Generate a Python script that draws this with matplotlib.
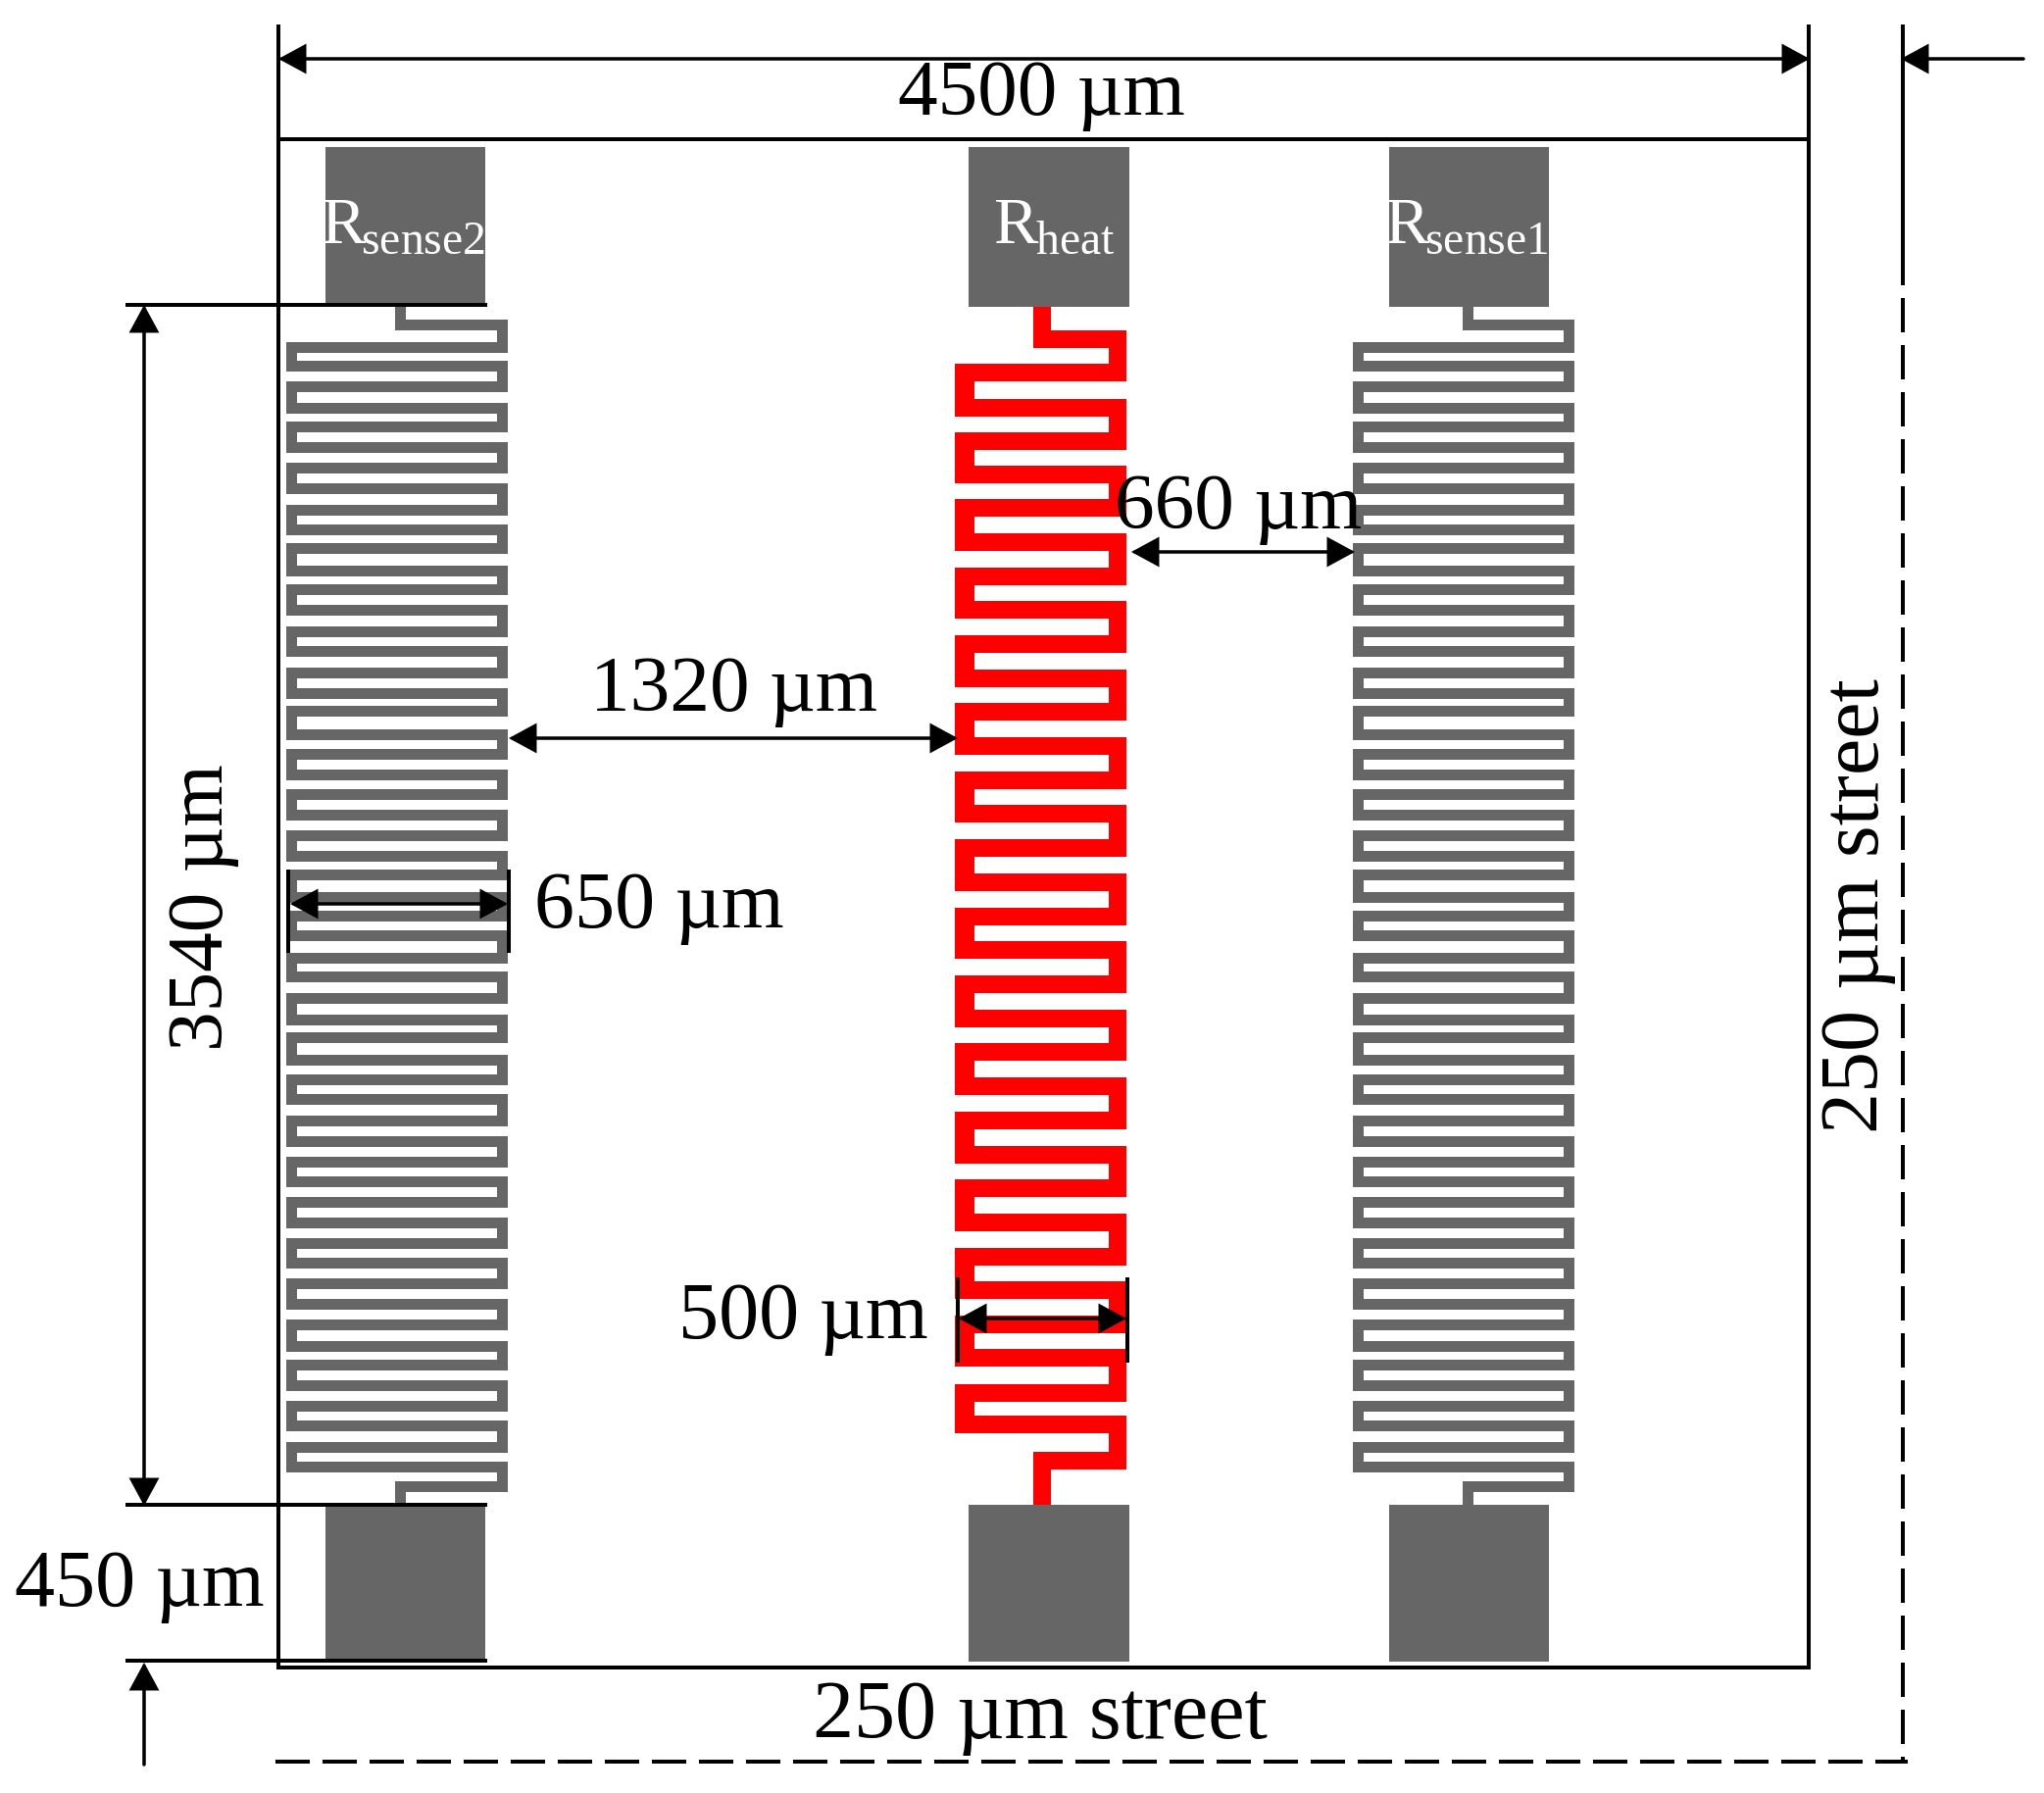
import matplotlib

matplotlib.use("Agg")
import matplotlib.pyplot as plt
from matplotlib.patches import Rectangle

ARQUIVO = "out.png"
LARGURA = 2085
ALTURA = 1829
DPI = 100

CINZA = "#666666"
VERMELHO = "#ff0000"
PRETO = "#000000"
FONTE = "Liberation Serif"

plt.rcParams["mathtext.fontset"] = "custom"
plt.rcParams["mathtext.rm"] = FONTE

# meander rows (pixel rows)
LINHAS_SENSOR = [
    354, 373, 394, 416, 435, 456, 477, 498, 520, 540,
    559, 582, 601, 622, 644, 664, 686, 707, 725, 749,
    769, 790, 810, 831, 852, 873, 892, 915, 934, 954,
    977, 996, 1018, 1040, 1058, 1081, 1101, 1121, 1143, 1164,
    1185, 1205, 1226, 1247, 1268, 1288, 1309, 1330, 1351, 1373,
    1392, 1413, 1434, 1454, 1476, 1496,
]
LINHAS_AQUECEDOR = [
    380, 416, 450, 484, 518, 553, 588, 622, 657, 692, 726,
    761, 796, 830, 865, 900, 935, 969, 1004, 1039, 1073,
    1108, 1143, 1178, 1212, 1247, 1282, 1316, 1351, 1385, 1421, 1453,
]

# x esq, x dir, x entrada, y topo, y entrada, y saida, y base
SENSOR2 = (297, 512, 408, 312, 331, 1516, 1535)
SENSOR1 = (1385, 1600, 1497, 312, 331, 1516, 1535)
AQUECEDOR = (984, 1140, 1063, 313, 346, 1490, 1535)

# x, largura
PADS_X = [(332, 163), (988, 164), (1417, 163)]
PADS_TOPO = (150, 163)
PADS_BASE = (1535, 160)

# texto, x
ROTULOS_PAD = [
    (r"R$\hspace{-0.07}_{\mathrm{sense2}}$", 327),
    (r"R$\hspace{-0.04}_{\mathrm{heat}}$", 1013),
    (r"R$\hspace{-0.07}_{\mathrm{sense1}}$", 1412),
]

# texto, x, y, rotacao, alinhamento, tamanho
COTAS = [
    ("4500 µm", 1062, 117, 0, "center", 58.5),
    ("660 µm", 1263, 539, 0, "center", 58.5),
    ("1320 µm", 749, 725, 0, "center", 58.5),
    ("650 µm", 545, 946, 0, "left", 59),
    ("500 µm", 692, 1365, 0, "left", 59),
    ("450 µm", 15, 1638, 0, "left", 59),
    ("250 µm street", 1061, 1773, 0, "center", 60.5),
    ("3540 µm", 227, 926, 90, "center", 58.5),
    ("250 µm street", 1916, 924, 90, "center", 60.5),
]

# x0, y0, x1, y1
SETAS_DUPLAS = [
    (284, 60, 1846, 60),
    (1154, 563, 1382, 563),
    (519, 753, 977, 753),
    (296, 922, 518, 922),
    (978, 1345, 1149, 1345),
    (147, 311, 147, 1536),
]
SETAS_SIMPLES = [
    (2064, 60, 1939, 60),
    (147, 1800, 147, 1696),
]
LINHAS_FINAS = [
    (284, 25, 284, 1703),
    (1845, 25, 1845, 1703),
    (284, 142, 1845, 142),
    (282, 1701, 1847, 1701),
    (128, 311, 497, 311),
    (128, 1535, 497, 1535),
    (128, 1694, 497, 1694),
    (1941, 25, 1941, 256),
    (294, 887, 294, 972),
    (519, 887, 519, 972),
    (977, 1303, 977, 1390),
    (1150, 1303, 1150, 1390),
]
TRACEJADAS = [
    (1941, 256, 1941, 1797),
    (281, 1797, 1946, 1797),
]


def px(valor):
    return valor * 72 / DPI


def caminho_serpentina(geo, linhas):
    x_esq, x_dir, x_ent, y_topo, y_ent, y_sai, y_base = geo
    xs = [x_ent, x_ent, x_dir]
    ys = [y_topo, y_ent, y_ent]
    for i, y in enumerate(linhas):
        lado_a, lado_b = (x_dir, x_esq) if i % 2 == 0 else (x_esq, x_dir)
        xs += [lado_a, lado_b]
        ys += [y, y]
    xs += [x_dir, x_ent, x_ent]
    ys += [y_sai, y_sai, y_base]
    return xs, ys


def desenhar_serpentina(ax, geo, linhas, cor, esp):
    xs, ys = caminho_serpentina(geo, linhas)
    ax.plot(xs, ys, color=cor, lw=px(esp), solid_joinstyle="miter",
            solid_capstyle="butt", zorder=2)


def reforcar_esquerda(ax, geo, linhas, cor, esp, esp_linha):
    # the heater's left bends are a bit wider than the rows
    for y0, y1 in zip(linhas[0::2], linhas[1::2]):
        ax.plot([geo[0], geo[0]], [y0 - esp_linha / 2, y1 + esp_linha / 2], color=cor,
                lw=px(esp), solid_capstyle="butt", zorder=2)


def desenhar_seta(ax, x0, y0, x1, y1, estilo):
    ax.annotate(
        "", xy=(x1, y1), xytext=(x0, y0),
        arrowprops=dict(
            arrowstyle=f"{estilo},head_length={px(23):.1f},head_width={px(12.5):.1f}",
            mutation_scale=1, lw=px(3.5), color=PRETO,
            shrinkA=0, shrinkB=0, joinstyle="miter",
        ),
        zorder=5,
    )


def gerar_figura():
    fig = plt.figure(figsize=(LARGURA / DPI, ALTURA / DPI), dpi=DPI)
    ax = fig.add_axes([0, 0, 1, 1])
    ax.set_xlim(0, LARGURA)
    ax.set_ylim(ALTURA, 0)
    ax.axis("off")

    for x, larg in PADS_X:
        ax.add_patch(Rectangle((x, PADS_TOPO[0]), larg, PADS_TOPO[1], color=CINZA, lw=0, zorder=1))
        ax.add_patch(Rectangle((x, PADS_BASE[0]), larg, PADS_BASE[1], color=CINZA, lw=0, zorder=1))

    desenhar_serpentina(ax, SENSOR2, LINHAS_SENSOR, CINZA, 11)
    desenhar_serpentina(ax, SENSOR1, LINHAS_SENSOR, CINZA, 11)
    desenhar_serpentina(ax, AQUECEDOR, LINHAS_AQUECEDOR, VERMELHO, 18)
    reforcar_esquerda(ax, AQUECEDOR, LINHAS_AQUECEDOR, VERMELHO, 20, 18)

    for x0, y0, x1, y1 in LINHAS_FINAS:
        ax.plot([x0, x1], [y0, y1], color=PRETO, lw=px(4), solid_capstyle="butt", zorder=4)
    for x0, y0, x1, y1 in TRACEJADAS:
        ax.plot([x0, x1], [y0, y1], color=PRETO, lw=px(4), dashes=(35 / 4, 13 / 4),
                dash_capstyle="butt", zorder=4)
    for x0, y0, x1, y1 in SETAS_DUPLAS:
        desenhar_seta(ax, x0, y0, x1, y1, "<|-|>")
    for x0, y0, x1, y1 in SETAS_SIMPLES:
        desenhar_seta(ax, x0, y0, x1, y1, "-|>")

    for texto, x in ROTULOS_PAD:
        ax.text(x, 248, texto, color="white", family=FONTE, fontsize=49,
                ha="left", va="baseline", zorder=6)

    for texto, x, y, rot, alinh, tam in COTAS:
        ax.text(x, y, texto, color=PRETO, family=FONTE, fontsize=tam,
                rotation=rot, rotation_mode="anchor",
                ha=alinh, va="baseline", zorder=7)

    fig.savefig(ARQUIVO, dpi=DPI, facecolor="white")
    plt.close(fig)


if __name__ == "__main__":
    gerar_figura()
